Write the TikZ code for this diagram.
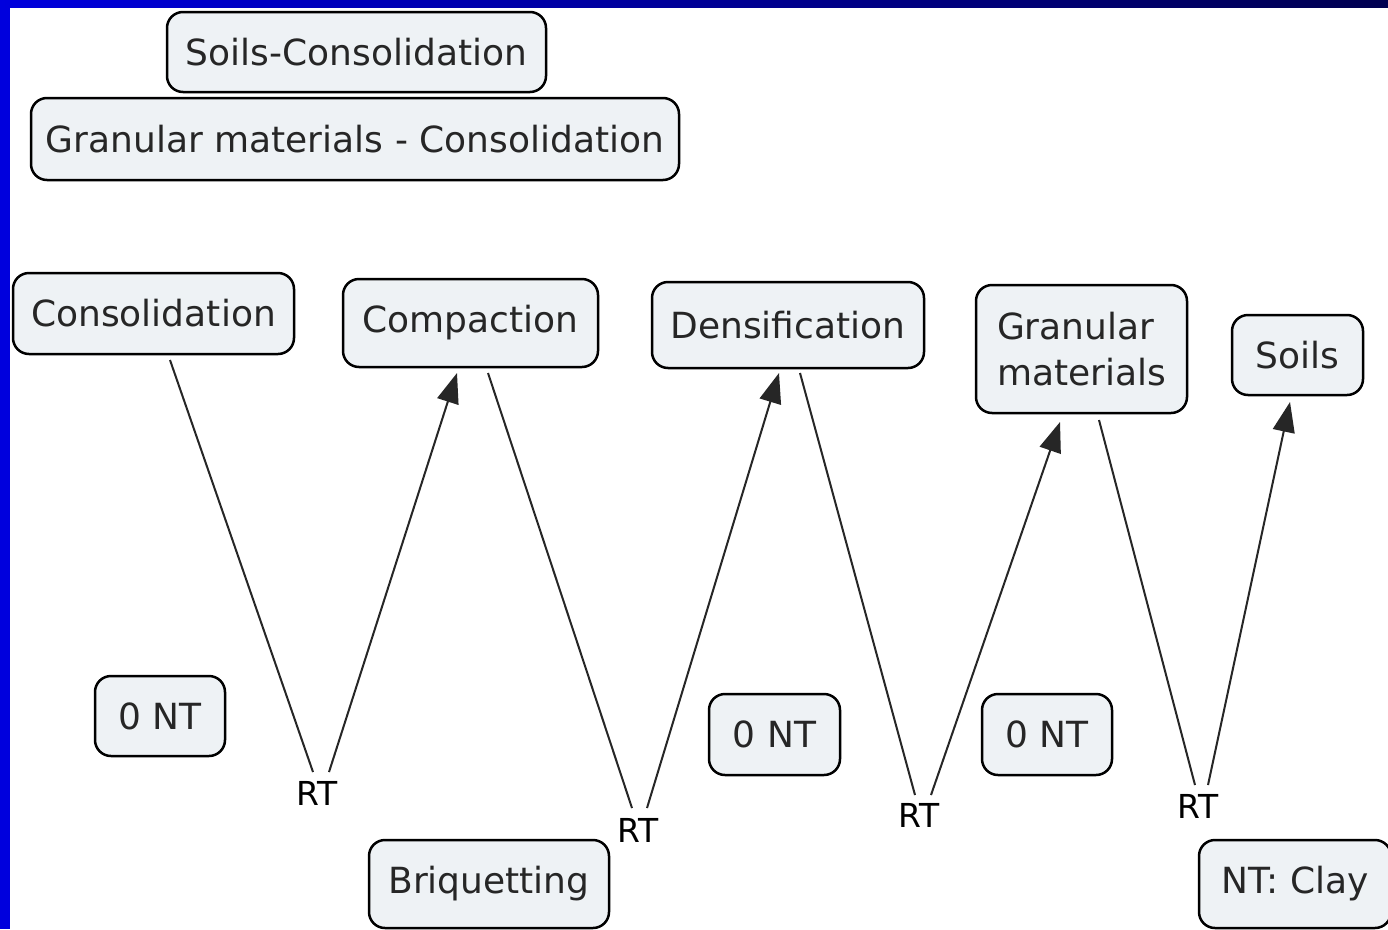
\documentclass[tikz,border=0pt]{standalone}
\usepackage{fontspec}
\setmainfont{DejaVu Sans}
\usetikzlibrary{calc,arrows.meta}
\definecolor{boxfill}{HTML}{EEF2F5}
\definecolor{txt}{HTML}{262626}
\definecolor{sideblue}{HTML}{0000DD}
\definecolor{navy}{HTML}{000050}
\begin{document}
\begin{tikzpicture}[x=1pt,y=-1pt,
 box/.style={draw=black, line width=2.5pt, fill=boxfill, rounded corners=16pt, inner sep=0pt, text=txt, font=\fontsize{36}{46}\selectfont},
 rt/.style={inner sep=0pt, font=\fontsize{33}{38}\selectfont, text=black},
 link/.style={line width=2pt, draw=txt},
 arr/.style={link, -{Triangle[length=30pt,width=22pt]}}]
\useasboundingbox (0,0) rectangle (1388,929);
\clip (0,0) rectangle (1388,929);
\fill[white] (0,0) rectangle (1388,929);
\fill[sideblue] (0,0) rectangle (10,929);
\shade[left color=sideblue, right color=navy] (0,0) rectangle (1388,7);

\node[box, minimum width=379pt, minimum height=80pt] (sc) at (356.5,52) {Soils-Consolidation};
\node[box, minimum width=648pt, minimum height=82pt] (gmc) at (355,139) {Granular materials - Consolidation};
\node[box, minimum width=281pt, minimum height=81pt] (cons) at (153.5,313.5) {Consolidation};
\node[box, minimum width=255pt, minimum height=88pt] (comp) at (470.5,323) {Compaction};
\node[box, minimum width=272pt, minimum height=86pt] (dens) at (788,325) {Densification};
\node[box, minimum width=211pt, minimum height=128pt, align=left] (gran) at (1081.5,349) {Granular\\materials};
\node[box, minimum width=131pt, minimum height=80pt] (soils) at (1297.5,355) {Soils};
\node[box, minimum width=130pt, minimum height=80pt] (nt1) at (160,716) {0 NT};
\node[box, minimum width=131pt, minimum height=81pt] (nt2) at (774.5,734.5) {0 NT};
\node[box, minimum width=130pt, minimum height=81pt] (nt3) at (1047,734.5) {0 NT};
\node[box, minimum width=240pt, minimum height=88pt] (briq) at (489,884) {Briquetting};
\node[box, minimum width=192pt, minimum height=88pt] (clay) at (1295,884) {NT: Clay};

\node[rt] (rt1) at (317,793) {RT};
\node[rt] (rt2) at (638,830) {RT};
\node[rt] (rt3) at (919,815) {RT};
\node[rt] (rt4) at (1198,806) {RT};

\draw[link] ($(cons)+(16.5,46.5)$) -- ($(rt1)+(-4,-21)$);
\draw[arr] ($(rt1)+(12,-21)$) -- ($(comp)+(-13.5,50)$);
\draw[link] ($(comp)+(17.5,50)$) -- ($(rt2)+(-6,-22)$);
\draw[arr] ($(rt2)+(9,-22)$) -- ($(dens)+(-9,48)$);
\draw[link] ($(dens)+(12,48)$) -- ($(rt3)+(-4,-20)$);
\draw[arr] ($(rt3)+(12,-20)$) -- ($(gran)+(-21.5,73)$);
\draw[link] ($(gran)+(17.5,71)$) -- ($(rt4)+(-3,-21)$);
\draw[arr] ($(rt4)+(10,-21)$) -- ($(soils)+(-7.5,47)$);
\end{tikzpicture}
\end{document}
